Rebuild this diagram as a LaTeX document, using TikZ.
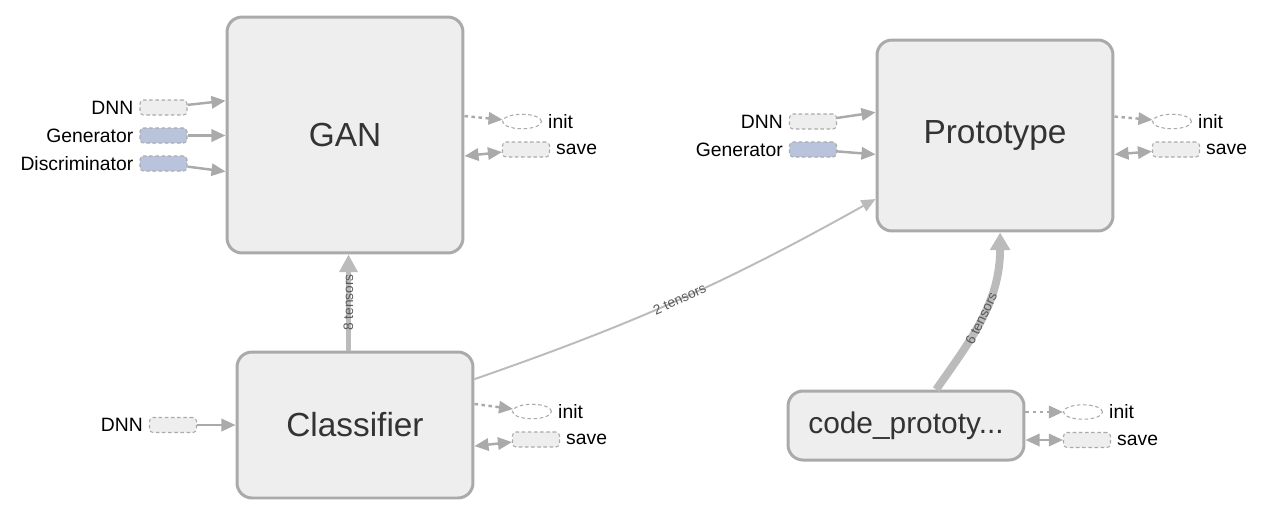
\documentclass[tikz,border=0pt]{standalone}
\usepackage{fontspec}
\setmainfont{Liberation Sans}
\usetikzlibrary{arrows.meta,shapes.geometric}

\definecolor{boxfill}{HTML}{EEEEEE}
\definecolor{boxline}{HTML}{AAAAAA}
\definecolor{edgeline}{HTML}{BBBBBB}
\definecolor{genfill}{HTML}{B9C4DC}
\definecolor{nametext}{HTML}{333333}

\begin{document}
\begin{tikzpicture}[x=0.02cm,y=-0.02cm,
  group/.style={draw=boxline,fill=boxfill,line width=1.7pt,rounded corners=0.3cm,
    minimum width=4.72cm,text=nametext,font=\fontsize{19}{22}\selectfont},
  ext/.style={draw=boxline,fill=boxfill,line width=0.6pt,dash pattern=on 2pt off 1.5pt,
    rounded corners=2pt,minimum width=0.94cm,minimum height=0.3cm,inner sep=0pt},
  gen/.style={ext,fill=genfill},
  initnode/.style={ext,ellipse,fill=white,minimum width=0.78cm,minimum height=0.29cm},
  lbl/.style={font=\fontsize{11}{13}\selectfont},
  feed/.style={draw=boxline,line width=1.4pt,-{Triangle[length=8pt,width=7pt]}},
  initedge/.style={feed,dash pattern=on 2pt off 2pt},
  saveedge/.style={draw=boxline,line width=1.4pt,{Triangle[length=8pt,width=7pt]}-{Triangle[length=8pt,width=7pt]}},
  tensor/.style={draw=edgeline},
  tlabel/.style={sloped,inner sep=0pt,text=black!65,font=\fontsize{7.8}{9}\selectfont}]
\useasboundingbox (0,0) rectangle (1274,522);

% Main groups
\node[group,minimum height=4.72cm] (GAN) at (345,135) {GAN};
\node[group,minimum height=3.82cm] (Prototype) at (995,135.5) {Prototype};
\node[group,minimum height=2.92cm] (Classifier) at (355,425) {Classifier};
\node[group,minimum height=1.38cm,font=\fontsize{17}{20}\selectfont] (codeproto) at (906,425.5) {code\_prototy...};

% GAN inputs and outputs
\node[ext,label={[lbl]left:DNN}] (gdnn) at (163.5,107.5) {};
\node[gen,label={[lbl]left:Generator}] (ggen) at (163.5,135.5) {};
\node[gen,label={[lbl]left:Discriminator}] (gdisc) at (163.5,163.5) {};
\node[initnode,label={[lbl]right:init}] (ginit) at (522,121.5) {};
\node[ext,label={[lbl]right:save}] (gsave) at (526,149.5) {};
\draw[feed] (gdnn) -- (GAN.164);
\draw[feed] (ggen) -- (GAN.west |- ggen);
\draw[feed] (gdisc) -- (GAN.197);
\draw[initedge] (GAN.9) -- (ginit);
\draw[saveedge] (GAN.350.5) -- (gsave);

% Prototype inputs and outputs
\node[ext,label={[lbl]left:DNN}] (pdnn) at (813,121.5) {};
\node[gen,label={[lbl]left:Generator}] (pgen) at (813,149.5) {};
\node[initnode,label={[lbl]right:init}] (pinit) at (1172,121.5) {};
\node[ext,label={[lbl]right:save}] (psave) at (1176,149.5) {};
\draw[feed] (pdnn) -- (Prototype.169.2);
\draw[feed] (pgen) -- (Prototype.189.4);
\draw[initedge] (Prototype.9) -- (pinit);
\draw[saveedge] (Prototype.351) -- (psave);

% Classifier inputs and outputs
\node[ext,label={[lbl]left:DNN}] (cdnn) at (173,425) {};
\node[initnode,label={[lbl]right:init}] (cinit) at (532,411.5) {};
\node[ext,label={[lbl]right:save}] (csave) at (536,439.5) {};
\draw[feed] (cdnn) -- (Classifier);
\draw[initedge] (Classifier.10.5) -- (cinit);
\draw[saveedge] (Classifier.350) -- (csave);

% code_prototy outputs
\node[initnode,label={[lbl]right:init}] (kinit) at (1083,412) {};
\node[ext,label={[lbl]right:save}] (ksave) at (1087,440) {};
\draw[initedge] (codeproto.east |- kinit) -- (kinit);
\draw[saveedge] (codeproto.east |- ksave) -- (ksave);

% Tensor edges
\draw[tensor,line width=2.8pt,-{Triangle[length=10pt,width=10pt]}]
  (Classifier.95.5) -- (Classifier.95.5 |- GAN.south)
  node[tlabel,midway] {8 tensors};
\draw[tensor,line width=1.1pt,-{Triangle[length=8pt,width=7pt]}]
  (Classifier.21.3) to[bend right=5] node[tlabel,midway] {2 tensors} (Prototype.208.7);
\draw[tensor,line width=4.5pt,-{Triangle[length=10pt,width=11pt]}]
  (codeproto.50) .. controls +(35,-50) and +(0,70) .. (Prototype.273)
  node[tlabel,pos=0.5] {6 tensors};
\end{tikzpicture}
\end{document}
